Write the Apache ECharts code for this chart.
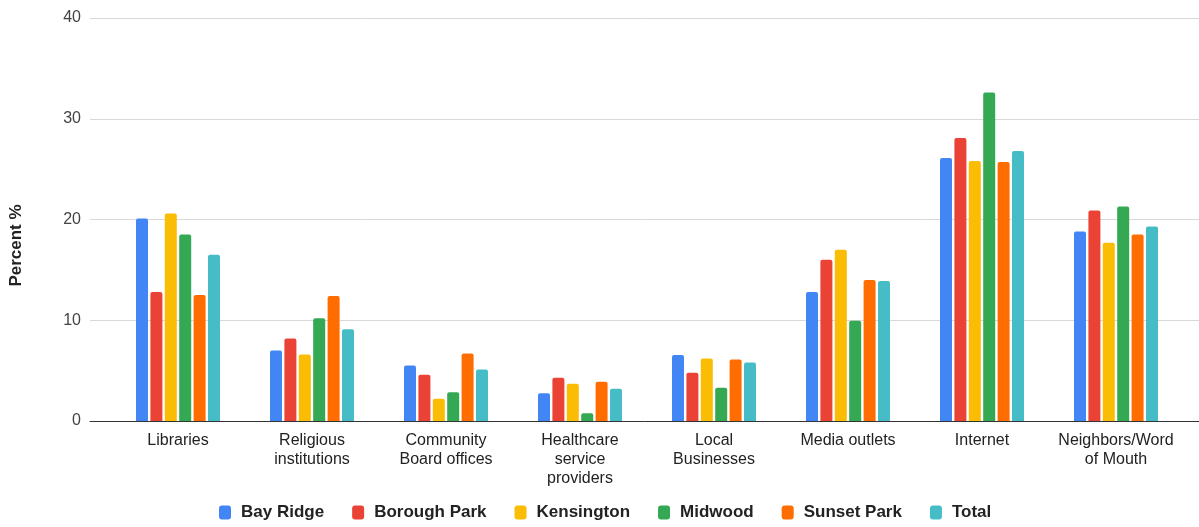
<!DOCTYPE html>
<html>
<head>
<meta charset="utf-8">
<script src="https://cdn.jsdelivr.net/npm/echarts@6/dist/echarts.min.js"></script>
<style>
html,body{margin:0;padding:0;background:#fff;}
#chart{width:1199px;height:527px;}
</style>
</head>
<body>
<div id="chart"></div>
<script>
const categories = ["Libraries", "Religious\ninstitutions", "Community\nBoard offices", "Healthcare\nservice\nproviders", "Local\nBusinesses", "Media outlets", "Internet", "Neighbors/Word\nof Mouth"];
const seriesNames = ["Bay Ridge", "Borough Park", "Kensington", "Midwood", "Sunset Park", "Total"];
const bayRidge    = [20.1, 7.0, 5.5, 2.75, 6.55, 12.8, 26.1, 18.8];
const boroughPark = [12.8, 8.2, 4.6, 4.3, 4.8, 16.0, 28.1, 20.9];
const kensington  = [20.6, 6.6, 2.2, 3.7, 6.2, 17.0, 25.8, 17.7];
const midwood     = [18.5, 10.2, 2.85, 0.76, 3.3, 9.95, 32.6, 21.3];
const sunsetPark  = [12.5, 12.4, 6.7, 3.9, 6.1, 14.0, 25.7, 18.5];
const total       = [16.5, 9.1, 5.1, 3.2, 5.8, 13.9, 26.8, 19.3];
const yTicks = [0, 10, 20, 30, 40];

const colors = ["#4285F4", "#EA4335", "#FBBC04", "#34A853", "#FF6D01", "#46BDC6"];
const values = [bayRidge, boroughPark, kensington, midwood, sunsetPark, total];
const font = "Liberation Sans, Arial, sans-serif";
const yMin = yTicks[0], yMax = yTicks[yTicks.length - 1];

const chart = echarts.init(document.getElementById('chart'));
chart.setOption({
  animation: false,
  color: colors,
  textStyle: {fontFamily: font},
  grid: [
    {left: 110, right: 16, top: 18, bottom: 106},
    {left: 90, right: 0, top: 18, bottom: 106}
  ],
  legend: {
    bottom: 1, left: 214,
    itemWidth: 12, itemHeight: 14, itemGap: 28,
    icon: 'roundRect',
    textStyle: {fontSize: 17, fontWeight: 'bold', color: '#222', fontFamily: font, padding: [0, 0, 0, 5]},
    data: seriesNames
  },
  xAxis: [
    {
      type: 'category', gridIndex: 0,
      data: categories,
      axisTick: {show: false},
      axisLine: {show: false},
      axisLabel: {fontSize: 16, color: '#222', lineHeight: 19, margin: 10, interval: 0, fontFamily: font}
    },
    {
      type: 'value', gridIndex: 1, min: 0, max: 1,
      axisLine: {show: true, onZero: false, lineStyle: {color: '#333', width: 1}},
      axisTick: {show: false}, axisLabel: {show: false}, splitLine: {show: false}
    }
  ],
  yAxis: [
    {
      type: 'value', gridIndex: 0,
      min: yMin, max: yMax, interval: 10,
      name: 'Percent %',
      nameLocation: 'middle',
      nameGap: 86,
      nameTextStyle: {fontSize: 17, fontWeight: 'bold', color: '#222', fontFamily: font, padding: [0, 52, 0, 0]},
      axisLabel: {fontSize: 16, color: '#444', margin: 30, fontFamily: font},
      splitLine: {show: false},
      axisLine: {show: false},
      axisTick: {show: false}
    },
    {
      type: 'value', gridIndex: 1,
      min: yMin, max: yMax, interval: 10,
      axisLabel: {show: false},
      splitLine: {lineStyle: {color: '#d9d9d9'}},
      axisLine: {show: false},
      axisTick: {show: false}
    }
  ],
  series: seriesNames.map((n, i) => ({
    name: n,
    type: 'bar',
    xAxisIndex: 0, yAxisIndex: 0,
    data: values[i],
    barWidth: 12,
    barGap: '20%',
    z: 3,
    itemStyle: {borderRadius: [2, 2, 0, 0]}
  }))
});
</script>
</body>
</html>
